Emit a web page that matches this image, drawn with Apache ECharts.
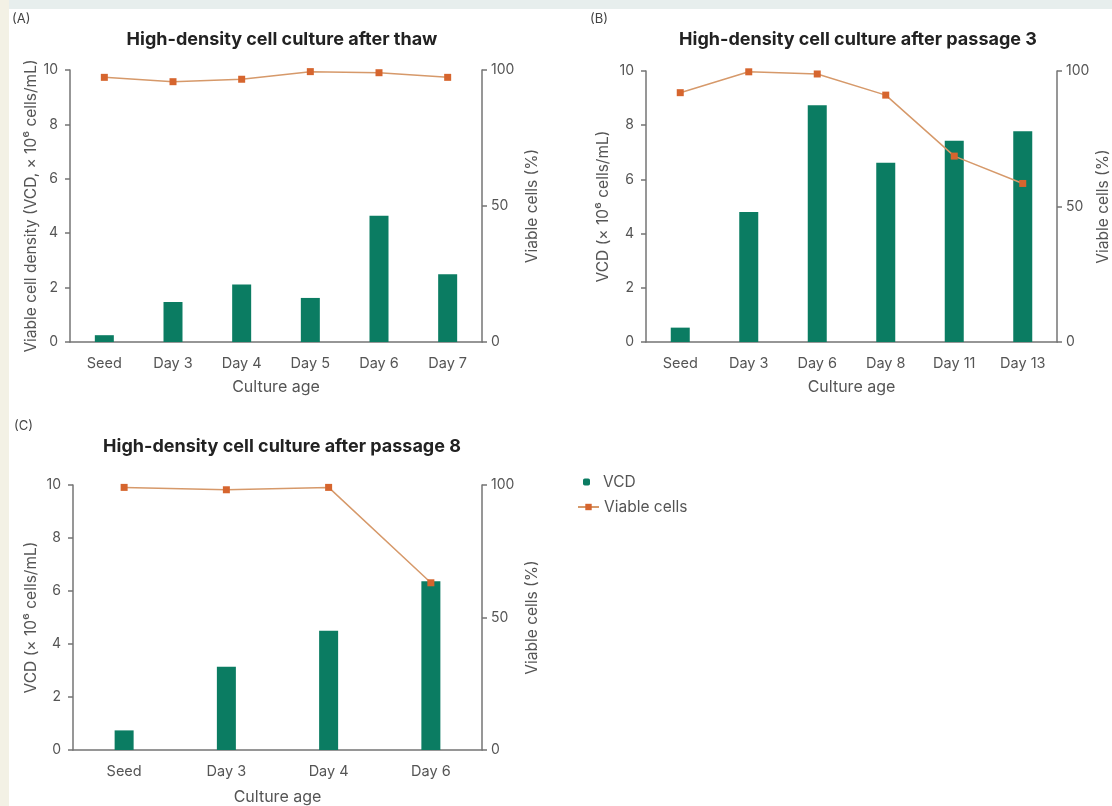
<!DOCTYPE html>
<html><head><meta charset="utf-8">
<script src="https://cdn.jsdelivr.net/npm/echarts@6/dist/echarts.min.js"></script>
<style>html,body{margin:0;padding:0;background:#fff}#c{width:1112px;height:806px}</style>
</head><body><div id="c"></div>
<script>
// ---- data ----
const catA = ['Seed', 'Day 3', 'Day 4', 'Day 5', 'Day 6', 'Day 7'];
const vcdA = [0.25, 1.47, 2.11, 1.62, 4.64, 2.49];
const viabA = [97.3, 95.7, 96.6, 99.4, 99.0, 97.3];

const catB = ['Seed', 'Day 3', 'Day 6', 'Day 8', 'Day 11', 'Day 13'];
const vcdB = [0.53, 4.80, 8.74, 6.61, 7.43, 7.78];
const viabB = [92.0, 99.7, 98.9, 91.1, 68.6, 58.5];

const catC = ['Seed', 'Day 3', 'Day 4', 'Day 6'];
const vcdC = [0.74, 3.14, 4.50, 6.37];
const viabC = [99.1, 98.2, 99.1, 63.1];

const titles = ['High-density cell culture after thaw', 'High-density cell culture after passage 3', 'High-density cell culture after passage 8'];
const panelTags = ['(A)', '(B)', '(C)'];
const leftNames = ['Viable cell density (VCD, \u00d7 10\u2076 cells/mL)', 'VCD (\u00d7 10\u2076 cells/mL)', 'VCD (\u00d7 10\u2076 cells/mL)'];
const rightName = 'Viable cells (%)';
const xName = 'Culture age';

// ---- style ----
const FONT = 'Inter';
const GREEN = '#0b7c62';
const ORANGE_LINE = '#d6996a';
const ORANGE_PT = '#d6652e';
const AX = '#747474';
const TXT = '#555';

const grids = [
  {left: 70, right: 630, top: 70, bottom: 464},
  {left: 646, right: 52, top: 71, bottom: 464},
  {left: 73, right: 630, top: 485, bottom: 50}
];
const cats = [catA, catB, catC];
const vcds = [vcdA, vcdB, vcdC];
const viabs = [viabA, viabB, viabC];
const leftGaps = [29, 35, 34];
const rightGaps = [42, 38, 42];
const xGaps = [37, 37, 39];

const xAxes = [], yAxes = [], series = [];
cats.forEach((c, i) => {
  xAxes.push({
    type: 'category', gridIndex: i, data: c,
    name: xName, nameLocation: 'middle', nameGap: xGaps[i],
    nameTextStyle: {fontFamily: FONT, fontSize: 16, color: TXT},
    axisLine: {lineStyle: {color: AX, width: 1.5}},
    axisTick: {show: false},
    axisLabel: {fontFamily: FONT, fontSize: 14.5, color: TXT, margin: 14}
  });
  yAxes.push({
    type: 'value', gridIndex: i, min: 0, max: 10, interval: 2,
    name: leftNames[i], nameLocation: 'middle', nameGap: leftGaps[i],
    nameTextStyle: {fontFamily: FONT, fontSize: 15.5, color: TXT},
    axisLine: {show: true, lineStyle: {color: AX, width: 1.5}},
    axisTick: {show: true, length: 5, lineStyle: {color: AX, width: 1.5}},
    splitLine: {show: false},
    axisLabel: {fontFamily: FONT, fontSize: 14, color: TXT, margin: 12}
  });
  yAxes.push({
    type: 'value', gridIndex: i, position: 'right', min: 0, max: 100, interval: 50,
    name: rightName, nameLocation: 'middle', nameGap: rightGaps[i],
    nameTextStyle: {fontFamily: FONT, fontSize: 15.5, color: TXT},
    axisLine: {show: true, lineStyle: {color: AX, width: 1.5}},
    axisTick: {show: true, length: 5, lineStyle: {color: AX, width: 1.5}},
    splitLine: {show: false},
    axisLabel: {fontFamily: FONT, fontSize: 14, color: TXT, margin: 9}
  });
  series.push({
    name: 'VCD', type: 'bar', xAxisIndex: i, yAxisIndex: 2 * i, data: vcds[i],
    barWidth: 19, itemStyle: {color: GREEN}, z: 2
  });
  series.push({
    name: 'Viable cells', type: 'line', xAxisIndex: i, yAxisIndex: 2 * i + 1, data: viabs[i],
    symbol: 'rect', symbolSize: 7, lineStyle: {color: ORANGE_LINE, width: 1.5},
    itemStyle: {color: ORANGE_PT}, z: 3
  });
});

const titleOpts = [
  {text: titles[0], left: 277, top: 26},
  {text: titles[1], left: 853, top: 26},
  {text: titles[2], left: 277, top: 433}
].map(t => ({...t, textAlign: 'center', textStyle: {fontFamily: FONT, fontSize: 18, fontWeight: 'bold', color: '#222'}}));
[{text: panelTags[0], left: 7, top: 8}, {text: panelTags[1], left: 585, top: 8}, {text: panelTags[2], left: 9, top: 415}]
  .forEach(t => titleOpts.push({...t, textStyle: {fontFamily: FONT, fontSize: 13, fontWeight: 'normal', color: '#444'}}));

const chart = echarts.init(document.getElementById('c'), null, {renderer: 'canvas'});
chart.setOption({
  backgroundColor: '#ffffff',
  animation: false,
  graphic: [
    {type: 'rect', shape: {x: 0, y: 0, width: 1112, height: 9}, style: {fill: '#e7eeed'}, silent: true, z: -10},
    {type: 'rect', shape: {x: 0, y: 0, width: 9, height: 806}, style: {fill: '#f3f1e5'}, silent: true, z: -10}
  ],
  title: titleOpts,
  legend: [
    {data: ['VCD'], left: 578, top: 469, itemWidth: 7, itemHeight: 7,
     textStyle: {fontFamily: FONT, fontSize: 15.5, color: TXT, padding: [0, 0, 0, 8]}},
    {data: ['Viable cells'], left: 572, top: 494, itemWidth: 21, itemHeight: 8,
     textStyle: {fontFamily: FONT, fontSize: 15.5, color: TXT}}
  ],
  grid: grids,
  xAxis: xAxes,
  yAxis: yAxes,
  series: series
});
</script></body></html>
